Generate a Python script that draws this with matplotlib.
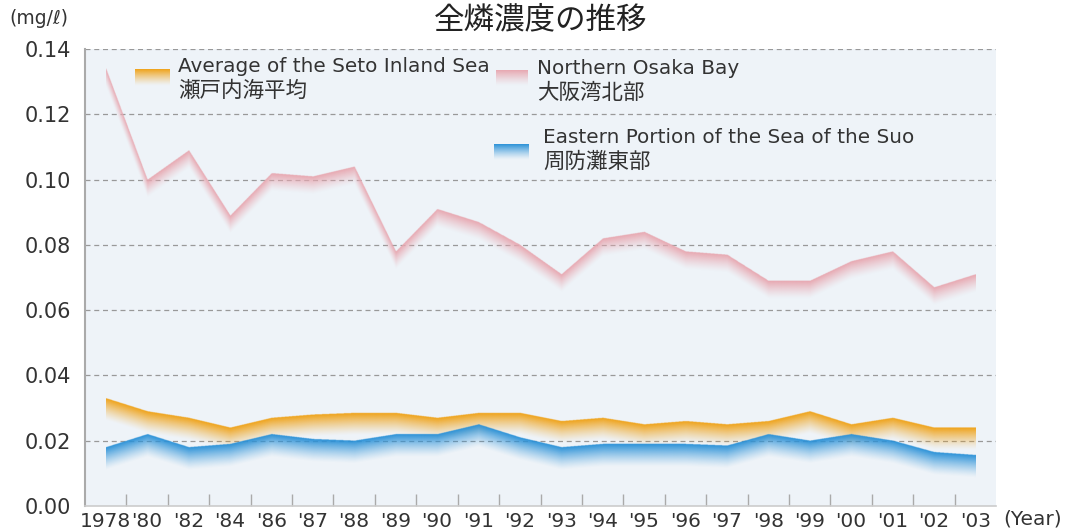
import numpy as np
import matplotlib
matplotlib.use('agg')
import matplotlib.pyplot as plt
from matplotlib.colors import to_rgb

plt.rcParams['font.family'] = ['DejaVu Sans', 'Noto Sans CJK JP']

years = ["1978", "'80", "'82", "'84", "'86", "'87", "'88", "'89", "'90", "'91", "'92",
         "'93", "'94", "'95", "'96", "'97", "'98", "'99", "'00", "'01", "'02", "'03"]
osaka_north = [0.134, 0.100, 0.109, 0.089, 0.102, 0.101, 0.104, 0.078, 0.091, 0.087, 0.080,
               0.071, 0.082, 0.084, 0.078, 0.077, 0.069, 0.069, 0.075, 0.078, 0.067, 0.071]
seto_avg = [0.033, 0.029, 0.027, 0.024, 0.027, 0.028, 0.0285, 0.0285, 0.027, 0.0285, 0.0285,
            0.026, 0.027, 0.025, 0.026, 0.025, 0.026, 0.029, 0.025, 0.027, 0.024, 0.024]
suo_east = [0.018, 0.022, 0.018, 0.019, 0.022, 0.0205, 0.020, 0.022, 0.022, 0.025, 0.021,
            0.018, 0.019, 0.019, 0.019, 0.0185, 0.022, 0.020, 0.022, 0.020, 0.0165, 0.0156]

W, H = 1066, 532
fig = plt.figure(figsize=(W / 100, H / 100), dpi=100)
fig.patch.set_facecolor('white')


def px_axes(x0, y0, x1, y1):
    # rectangle in pixel coords (top-left origin) -> figure fraction
    return [x0 / W, 1 - y1 / H, (x1 - x0) / W, (y1 - y0) / H]


ax = fig.add_axes(px_axes(85, 49, 996, 506))
ax.set_facecolor('#eef3f8')

YMAX = 0.14


def band(vals, color, h, z, power=1.3):
    x = np.arange(len(vals))
    xs = np.linspace(x[0], x[-1], 1800)
    ys = np.linspace(0, YMAX, 1600)
    yl = np.interp(xs, x, vals)
    d = yl[None, :] - ys[:, None]
    a = np.clip(1 - d / h, 0, 1) ** power
    a[d < 0] = 0
    rgba = np.zeros((len(ys), len(xs), 4))
    rgba[..., :3] = to_rgb(color)
    rgba[..., 3] = a
    ax.imshow(rgba, extent=(x[0], x[-1], 0, YMAX), origin='lower', aspect='auto',
              zorder=z, interpolation='bilinear')


band(osaka_north, '#e8a8b1', 0.0055, 3)
band(seto_avg, '#f0a31a', 0.0068, 3)
band(suo_east, '#2c92d8', 0.0070, 4)

n = len(years)
ax.set_xlim(-0.5, n - 0.5)
ax.set_ylim(0, YMAX)

ax.set_yticks(np.arange(0, 0.141, 0.02))
ax.set_yticklabels(['%.2f' % v for v in np.arange(0, 0.141, 0.02)])
ax.tick_params(axis='y', length=0, pad=10, labelsize=15, labelcolor='#333333')
for v in np.arange(0.02, 0.141, 0.02):
    ax.axhline(v, color='#999999', lw=0.9, ls=(0, (4, 3)), zorder=2)

ax.set_xticks(np.arange(n - 1) + 0.5)
ax.set_xticklabels([])
ax.tick_params(axis='x', which='major', direction='in', length=9, width=1, color='#aaaaaa')
ax.set_xticks(np.arange(n), minor=True)
ax.set_xticklabels(years, minor=True)
ax.tick_params(axis='x', which='minor', length=0, pad=4, labelsize=14.5, labelcolor='#333333')

for s in ['top', 'right']:
    ax.spines[s].set_visible(False)
ax.spines['left'].set_color('#aaaaaa')
ax.spines['left'].set_linewidth(1.5)
ax.spines['bottom'].set_color('#cccccc')
ax.spines['bottom'].set_linewidth(1.2)

# title and units
fig.text(541 / W, 1 - 20 / H, '全燐濃度の推移', ha='center', va='center', fontsize=22,
         color='#222222')
fig.text(9 / W, 1 - 18 / H, '(mg/ℓ)', ha='left', va='center', fontsize=13.5,
         color='#333333')
fig.text(1003 / W, 1 - 519 / H, '(Year)', ha='left', va='center', fontsize=14.5,
         color='#333333')


# legend
def legend_patch(x0, y0, x1, y1, color):
    lax = fig.add_axes(px_axes(x0, y0, x1, y1))
    g = np.linspace(1, 0, 50) ** 1.3
    rgba = np.zeros((50, 2, 4))
    rgba[..., :3] = to_rgb(color)
    rgba[..., 3] = g[:, None]
    lax.imshow(rgba, aspect='auto', extent=(0, 1, 0, 1), origin='upper',
               interpolation='bilinear')
    lax.axis('off')


legend_items = [
    (135, 69, 170, 86, '#f0a31a', 178, 67, 91,
     'Average of the Seto Inland Sea', '瀬戸内海平均'),
    (496, 70, 528, 86, '#e8a8b1', 537, 68, 93,
     'Northern Osaka Bay', '大阪湾北部'),
    (494, 144, 529, 160, '#2c92d8', 543, 137, 162,
     'Eastern Portion of the Sea of the Suo', '周防灘東部'),
]
for x0, y0, x1, y1, c, tx, ty1, ty2, en, jp in legend_items:
    legend_patch(x0, y0, x1, y1, c)
    fig.text(tx / W, 1 - ty1 / H, en, ha='left', va='center', fontsize=14.4,
             color='#333333')
    fig.text(tx / W, 1 - ty2 / H, jp, ha='left', va='center', fontsize=15.5,
             family=['Noto Sans CJK JP'], color='#333333')

fig.savefig('out.png', dpi=100)
